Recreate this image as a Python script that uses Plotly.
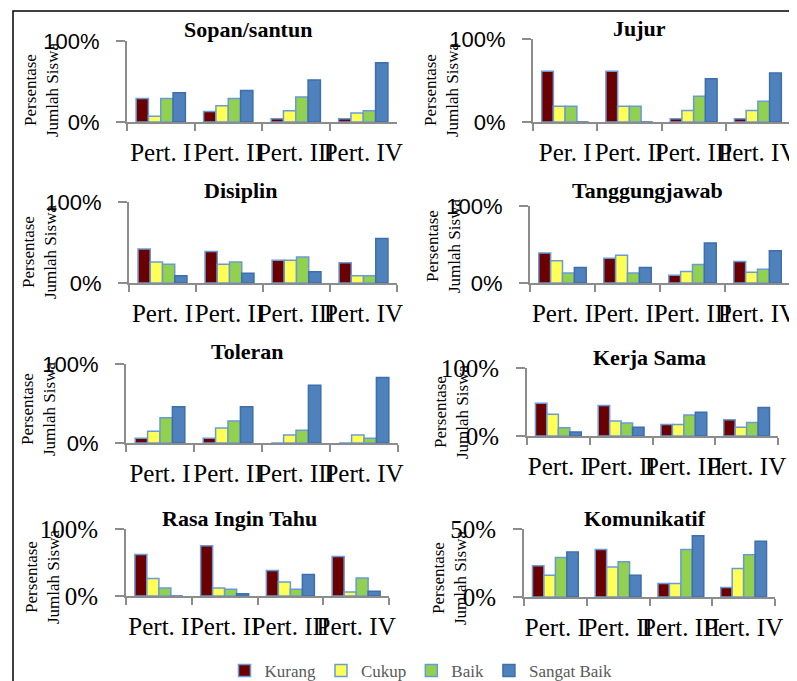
import plotly.graph_objects as go

W, H = 797, 681
OFF = 8  # page body margin of the written html

series_names = ["Kurang", "Cukup", "Baik", "Sangat Baik"]
series_colors = ["#6B0000", "#FFFF55", "#92D050", "#4F81BD"]
series_lines = ["#6A9AD6", "#6A9AD6", "#6A9AD6", "#3E6FAD"]

categories = ["Pert. I", "Pert. II", "Pert. III", "Pert. IV"]
categories_jujur = ["Per. I", "Pert. II", "Pert. III", "Pert. IV"]

panel_titles = ["Sopan/santun", "Jujur", "Disiplin", "Tanggungjawab",
                "Toleran", "Kerja Sama", "Rasa Ingin Tahu", "Komunikatif"]

# values per panel: [Kurang, Cukup, Baik, Sangat Baik], each over Pert. I..IV
sopan_santun = [[0.29, 0.13, 0.04, 0.04], [0.07, 0.20, 0.14, 0.11],
                [0.29, 0.29, 0.31, 0.14], [0.36, 0.39, 0.52, 0.73]]
jujur = [[0.61, 0.61, 0.04, 0.04], [0.19, 0.19, 0.14, 0.14],
         [0.19, 0.19, 0.31, 0.25], [0.0, 0.0, 0.52, 0.59]]
disiplin = [[0.42, 0.39, 0.28, 0.25], [0.26, 0.23, 0.28, 0.09],
            [0.23, 0.26, 0.32, 0.09], [0.09, 0.12, 0.14, 0.55]]
tanggungjawab = [[0.39, 0.32, 0.10, 0.28], [0.29, 0.36, 0.15, 0.14],
                 [0.13, 0.13, 0.24, 0.18], [0.20, 0.20, 0.52, 0.42]]
toleran = [[0.06, 0.06, 0.0, 0.0], [0.15, 0.19, 0.10, 0.10],
           [0.32, 0.28, 0.16, 0.06], [0.46, 0.46, 0.73, 0.83]]
kerja_sama = [[0.48, 0.45, 0.17, 0.24], [0.32, 0.22, 0.17, 0.13],
              [0.12, 0.19, 0.31, 0.20], [0.06, 0.13, 0.35, 0.42]]
rasa_ingin_tahu = [[0.62, 0.75, 0.38, 0.59], [0.26, 0.12, 0.21, 0.06],
                   [0.12, 0.10, 0.10, 0.27], [0.0, 0.035, 0.32, 0.07]]
komunikatif = [[0.23, 0.35, 0.10, 0.07], [0.16, 0.22, 0.10, 0.21],
               [0.29, 0.26, 0.35, 0.31], [0.33, 0.16, 0.45, 0.41]]

panel_data = [sopan_santun, jujur, disiplin, tanggungjawab,
              toleran, kerja_sama, rasa_ingin_tahu, komunikatif]
panel_cats = [categories, categories_jujur] + [categories] * 6
y_max = [1, 1, 1, 1, 1, 1, 1, 0.5]
y_tick_font = ["Liberation Sans"] * 5 + ["Liberation Serif"] * 3

# layout geometry in window pixels: x0, x1, y_top, y_bottom
boxes = [(127, 397, 41, 122), (533, 790, 39, 122),
         (129, 397, 202, 283), (530, 790, 206, 283),
         (126, 398, 364, 443), (527, 778, 368, 436),
         (126, 389, 529, 596), (524, 775, 529, 597)]
title_pos = [(248, 29), (639, 28), (240, 190), (647, 190),
             (248, 351), (649, 357), (239, 518), (645, 518)]
ytitle_pos = [(41, 90), (441, 90), (39, 252), (443, 246),
              (38, 409), (452, 412), (42, 577), (449, 578)]


def fx(px):
    return (px - OFF) / W


def fy(py):
    return 1 - (py - OFF) / H


fig = go.Figure()
annotations = []
for p in range(8):
    ax = "" if p == 0 else str(p + 1)
    for s in range(4):
        fig.add_trace(go.Bar(
            x=panel_cats[p], y=panel_data[p][s], name=series_names[s],
            marker=dict(color=series_colors[s],
                        line=dict(color=series_lines[s], width=1.5)),
            xaxis="x" + ax, yaxis="y" + ax,
            legendgroup=series_names[s], showlegend=(p == 0)))
    x0, x1, yt, yb = boxes[p]
    fig.layout["xaxis" + ax] = dict(
        domain=[fx(x0), fx(x1)], anchor="y" + ax, type="category",
        automargin=False,
        showline=True, linecolor="#8C8C8C", linewidth=2,
        ticks="outside", tickson="boundaries", ticklen=7,
        tickcolor="#8C8C8C", tickwidth=2, tickangle=0,
        ticklabelstandoff=7,
        tickfont=dict(family="Liberation Serif", size=25, color="black"),
        showgrid=False, fixedrange=True)
    fig.layout["yaxis" + ax] = dict(
        domain=[fy(yb), fy(yt)], anchor="x" + ax, automargin=False,
        range=[0, y_max[p]], tickvals=[0, y_max[p]], tickformat=".0%",
        showline=True, linecolor="#8C8C8C", linewidth=2,
        ticks="outside", ticklen=9, tickcolor="#8C8C8C", tickwidth=2,
        ticklabelstandoff=12,
        tickfont=dict(family=y_tick_font[p], size=22 if p < 5 else 25,
                      color="black"),
        showgrid=True, gridcolor="#8C8C8C", gridwidth=2,
        zeroline=False, fixedrange=True)
    tx, ty = title_pos[p]
    annotations.append(dict(
        text="<b>" + panel_titles[p] + "</b>", x=fx(tx), y=fy(ty),
        xref="paper", yref="paper", showarrow=False,
        xanchor="center", yanchor="middle",
        font=dict(family="Liberation Serif", size=22, color="black")))
    qx, qy = ytitle_pos[p]
    annotations.append(dict(
        text="Persentase<br>Jumlah Siswa", x=fx(qx), y=fy(qy),
        xref="paper", yref="paper", showarrow=False, textangle=-90,
        xanchor="center", yanchor="middle",
        font=dict(family="Liberation Serif", size=17, color="black")))

fig.update_layout(
    template="none",
    width=W, height=H,
    margin=dict(l=0, r=0, t=0, b=0, pad=0, autoexpand=False),
    paper_bgcolor="white", plot_bgcolor="white",
    barmode="group", bargap=0.27, bargroupgap=0,
    annotations=annotations,
    legend=dict(orientation="h", x=fx(421), xanchor="center",
                y=fy(671), yanchor="middle",
                font=dict(family="Liberation Serif", size=17, color="#595959"),
                itemwidth=30, tracegroupgap=0),
    shapes=[dict(type="rect", xref="paper", yref="paper",
                 x0=fx(13), x1=fx(795), y0=-0.05, y1=fy(11),
                 line=dict(color="black", width=1.5))],
)

fig.write_html("out.html")
